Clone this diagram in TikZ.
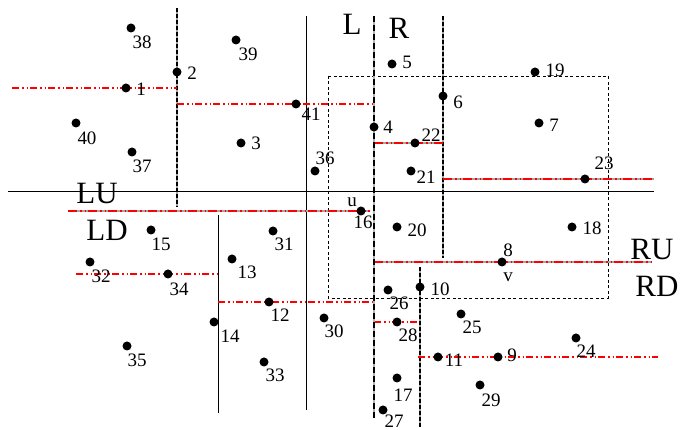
\documentclass[tikz,border=0pt]{standalone}
\usepackage{fontspec}
\setmainfont{Liberation Serif}
\usetikzlibrary{positioning}

\begin{document}
\begin{tikzpicture}[
    x=1pt, y=-1pt,
    % Styles definition
    pt/.style={circle, fill=black, inner sep=0pt, minimum size=9pt},
    num/.style={font=\fontsize{19}{19}\selectfont, inner sep=0pt},
    side/.style={font=\fontsize{31}{31}\selectfont, inner sep=0pt},
    cut/.style={draw=black, line width=0.9pt},
    dcut/.style={draw=black, line width=1.1pt, dash pattern=on 4pt off 2pt, preaction={draw=gray!70, solid, line width=1.1pt}},
    mcut/.style={draw=black, line width=2.6pt, dash pattern=on 6pt off 3pt, preaction={draw=gray!60, solid, line width=1.4pt}},
    rcut/.style={draw=red, line width=1.6pt, dash pattern=on 7pt off 3pt on 1.5pt off 3pt on 1.5pt off 2pt},
    rthick/.style={draw=red, line width=2.6pt, dash pattern=on 9pt off 3pt on 1.5pt off 3pt on 1.5pt off 2pt, preaction={draw=gray!70, solid, line width=1.2pt}},
    box/.style={draw=black, line width=0.8pt, dash pattern=on 3pt off 2.5pt}
]
\useasboundingbox (0,0) rectangle (681,430);

% --- Cut lines ---
\draw[box] (328,76) rectangle (608,298);
\draw[cut] (8,191) -- (654,191);
\draw[cut] (306,16) -- (306,410);
\draw[cut] (218,215) -- (218,413);
\draw[dcut] (177,8) -- (177,207);
\draw[dcut] (443,16) -- (443,258);
\draw[dcut] (420,267) -- (420,427);

% red splits
\draw[rcut] (12,88) -- (177,88);
\draw[rcut] (177,104) -- (374,104);
\draw[rthick] (374,143) -- (443,143);
\draw[rthick] (443,179) -- (654,179);
\draw[rthick] (68,211) -- (370,211);
\draw[rthick] (374,262) -- (652,262);
\draw[rcut] (76,274) -- (218,274);
\draw[rcut] (218,302) -- (374,302);
\draw[rcut] (374,322) -- (419,322);
\draw[rcut] (418,357) -- (658,357);

% main split L / R
\draw[mcut] (374,16) -- (374,418);

% --- Region names ---
\node[side] (nL) at (352,24) {L};
\node[side] (nR) at (399,28) {R};
\node[side] (nLU) at (97,194) {LU};
\node[side] (nLD) at (107,230) {LD};
\node[side] (nRU) at (652,250) {RU};
\node[side] (nRD) at (657,286) {RD};

% --- Points, left up ---
\node[pt] (p38) at (131,28) {};  \node[num] (l38) at (142,42) {38};
\node[pt] (p2) at (177,72) {};   \node[num] (l2) at (192,73) {2};
\node[pt] (p1) at (126,88) {};   \node[num] (l1) at (141,89) {1};
\node[pt] (p40) at (76,123) {};  \node[num] (l40) at (87,138) {40};
\node[pt] (p37) at (132,152) {}; \node[num] (l37) at (142,166) {37};
\node[pt] (p39) at (236,40) {};  \node[num] (l39) at (248,54) {39};
\node[pt] (p41) at (296,104) {}; \node[num] (l41) at (311,114) {41};
\node[pt] (p3) at (241,143) {};  \node[num] (l3) at (256,143) {3};
\node[pt] (p36) at (315,171) {}; \node[num] (l36) at (325,158) {36};

% --- Points, right up ---
\node[pt] (p5) at (392,64) {};   \node[num] (l5) at (407,62) {5};
\node[pt] (p4) at (374,127) {};  \node[num] (l4) at (388,127) {4};
\node[pt] (p22) at (415,143) {}; \node[num] (l22) at (431,135) {22};
\node[pt] (p21) at (411,171) {}; \node[num] (l21) at (426,177) {21};
\node[pt] (p6) at (443,96) {};   \node[num] (l6) at (458,102) {6};
\node[pt] (p19) at (535,72) {};  \node[num] (l19) at (555,70) {19};
\node[pt] (p7) at (539,123) {};  \node[num] (l7) at (554,125) {7};
\node[pt] (p23) at (585,179) {}; \node[num] (l23) at (604,163) {23};
\node[pt] (p20) at (397,227) {}; \node[num] (l20) at (417,230) {20};
\node[pt] (p18) at (572,227) {}; \node[num] (l18) at (592,228) {18};
\node[pt] (p8) at (502,262) {};  \node[num] (l8) at (508,250) {8};
\node[num] (lv) at (508,277) {v};

% --- Points, left down ---
\node[pt] (p16) at (361,211) {}; \node[num] (l16) at (363,222) {16};
\node[num] (lu) at (352,202) {u};
\node[pt] (p15) at (151,230) {}; \node[num] (l15) at (161,244) {15};
\node[pt] (p32) at (90,262) {};  \node[num] (l32) at (101,276) {32};
\node[pt] (p34) at (168,274) {}; \node[num] (l34) at (179,289) {34};
\node[pt] (p35) at (127,346) {}; \node[num] (l35) at (137,360) {35};
\node[pt] (p14) at (214,322) {}; \node[num] (l14) at (230,336) {14};
\node[pt] (p31) at (273,231) {}; \node[num] (l31) at (284,244) {31};
\node[pt] (p13) at (232,259) {}; \node[num] (l13) at (247,272) {13};
\node[pt] (p12) at (269,302) {}; \node[num] (l12) at (280,315) {12};
\node[pt] (p30) at (324,318) {}; \node[num] (l30) at (334,331) {30};
\node[pt] (p33) at (264,362) {}; \node[num] (l33) at (275,375) {33};

% --- Points, right down ---
\node[pt] (p26) at (388,290) {}; \node[num] (l26) at (399,303) {26};
\node[pt] (p10) at (420,287) {}; \node[num] (l10) at (440,289) {10};
\node[pt] (p28) at (397,322) {}; \node[num] (l28) at (408,335) {28};
\node[pt] (p17) at (397,378) {}; \node[num] (l17) at (403,395) {17};
\node[pt] (p27) at (383,410) {}; \node[num] (l27) at (394,421) {27};
\node[pt] (p11) at (438,357) {}; \node[num] (l11) at (454,360) {11};
\node[pt] (p9) at (498,357) {};  \node[num] (l9) at (512,355) {9};
\node[pt] (p29) at (480,385) {}; \node[num] (l29) at (491,400) {29};
\node[pt] (p24) at (576,338) {}; \node[num] (l24) at (586,351) {24};
\node[pt] (p25) at (461,314) {}; \node[num] (l25) at (472,327) {25};

\end{tikzpicture}
\end{document}
